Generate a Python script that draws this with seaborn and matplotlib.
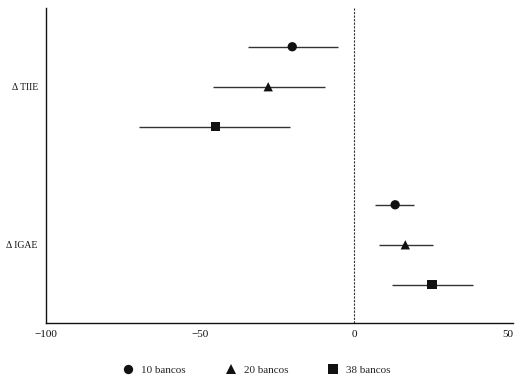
import matplotlib

matplotlib.use("Agg")
import matplotlib.pyplot as plt
import numpy as np
import pandas as pd
import seaborn as sns

# estimates and 95% intervals
variables = ["Δ TIIE", "Δ IGAE"]
muestras = ["10 bancos", "20 bancos", "38 bancos"]
tiie_est = [-20.1, -27.9, -45.1]
tiie_low = [-34.4, -45.8, -69.8]
tiie_high = [-5.2, -9.4, -20.8]
igae_est = [13.3, 16.6, 25.3]
igae_low = [6.8, 8.1, 12.3]
igae_high = [19.5, 25.6, 38.6]

INK = "#111111"
LINE = "#333333"

sns.set_theme(style="white")
plt.rcParams["font.family"] = ["Liberation Serif", "DejaVu Serif"]

rows = []
for g, (est, lo, hi) in enumerate([(tiie_est, tiie_low, tiie_high), (igae_est, igae_low, igae_high)]):
    for i, m in enumerate(muestras):
        rows.append({"variable": variables[g], "muestra": m, "y": g * 3.95 + i,
                     "est": est[i], "low": lo[i], "high": hi[i]})
df = pd.DataFrame(rows)

fig = plt.figure(figsize=(5.18, 3.78), dpi=100)
ax = fig.add_axes([0.089, 0.146, 0.901, 0.833])

ax.hlines(df["y"], df["low"], df["high"], color=LINE, lw=1.0, zorder=2)
ax.axvline(0, color=LINE, lw=0.8, ls=(0, (2, 1.2)), zorder=1)
sns.scatterplot(data=df, x="est", y="y", style="muestra",
                markers={"10 bancos": "o", "20 bancos": "^", "38 bancos": "s"},
                color=INK, s=45, edgecolor=INK, linewidth=0, zorder=3, ax=ax)

ax.set_xlim(-100, 51.5)
ax.set_ylim(6.9, -0.97)
ax.set_xticks([-100, -50, 0, 50])
ax.set_xticklabels(["−100", "−50", "0", "50"], fontsize=8)
ax.set_yticks([1, 4.95])
ax.set_yticklabels(["Δ TIIE", "Δ IGAE"], fontsize=7)
ax.tick_params(axis="x", length=0, pad=5, colors=INK)
ax.tick_params(axis="y", length=0, pad=6, colors=INK)
ax.set_xlabel("")
ax.set_ylabel("")
for side in ["top", "right"]:
    ax.spines[side].set_visible(False)
for side in ["left", "bottom"]:
    ax.spines[side].set_color(INK)
    ax.spines[side].set_linewidth(1.0)

handles, labels = ax.get_legend_handles_labels()
ax.legend_.remove()
fig.legend(handles, labels, loc="center", bbox_to_anchor=(0.49, 0.022), ncol=3,
           frameon=False, fontsize=8, handletextpad=0.2, columnspacing=3.0,
           markerscale=1.0)

fig.savefig("out.png", dpi=100)
